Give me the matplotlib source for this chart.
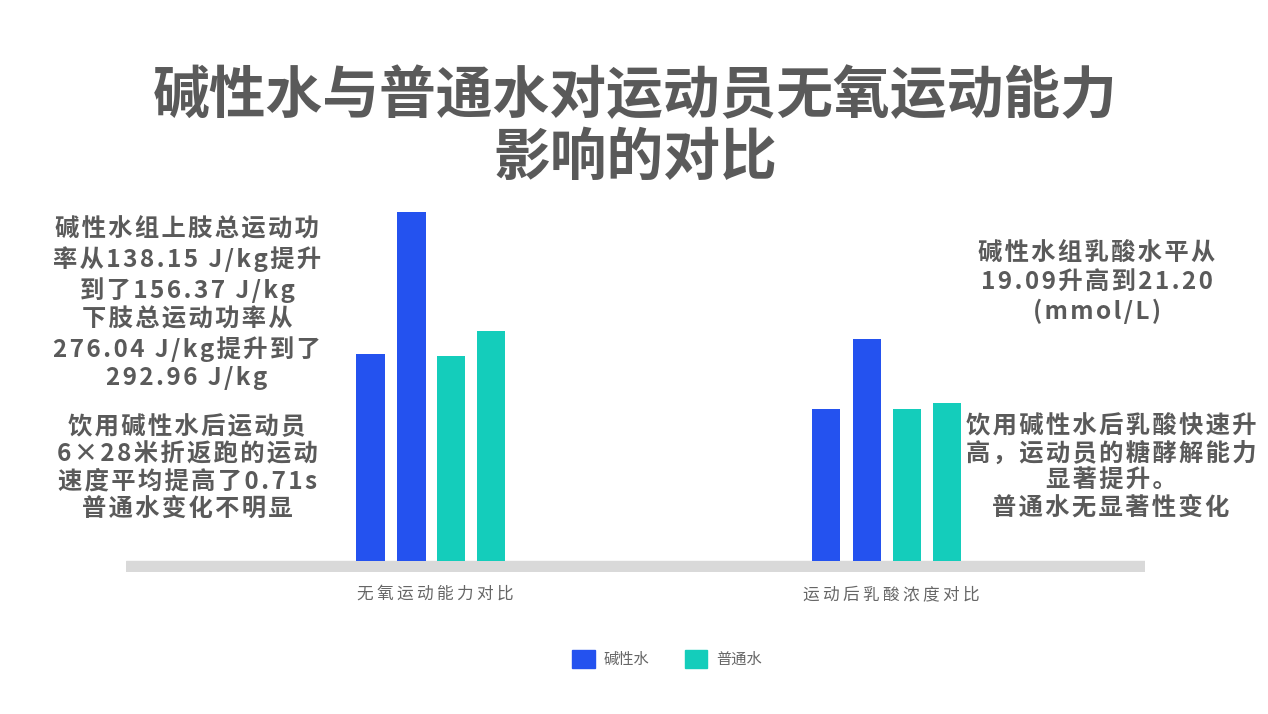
import matplotlib
matplotlib.use("Agg")
import matplotlib.pyplot as plt
from matplotlib.patches import Patch
import numpy as np

plt.rcParams['font.family'] = ['Noto Sans CJK SC', 'DejaVu Sans']

# данные
categories = ['无氧运动能力对比', '运动后乳酸浓度对比']
series_names = ['碱性水', '普通水']
alkaline_before = [207, 152]
alkaline_after = [349, 222]
plain_before = [205, 152]
plain_after = [230, 158]

blue = '#2452EF'
teal = '#14CDBB'
txt = '#5a5a5a'


def spaced(s, sp='\u200a'):
    # разрядка текста (letter-spacing)
    return '\n'.join(sp.join(line) for line in s.split('\n'))


fig = plt.figure(figsize=(12.68, 7.14), dpi=100)
W, H = 1268, 714
# оси: от 126 до 1145 px по x, от 200 до 572 px по y
ax = fig.add_axes([126 / W, 1 - 572 / H, (1145 - 126) / W, (572 - 200) / H])

x = np.arange(len(categories))
w = 0.062
offs = [-0.133, -0.043, 0.044, 0.131]
vals = [alkaline_before, alkaline_after, plain_before, plain_after]
cols = [blue, blue, teal, teal]
for o, v, c in zip(offs, vals, cols):
    ax.bar(x + o, v, width=w, color=c, zorder=3)

ax.set_xlim(-0.669, 1.566)
ax.set_ylim(-11, 361)
ax.axhspan(-11, 0, color='#D9D9D9', zorder=1)
for s in ax.spines.values():
    s.set_visible(False)
ax.set_yticks([])
ax.set_xticks(x + 0.01)
ax.set_xticklabels([spaced(c, '\u2009') for c in categories], fontsize=12, color='#666666')
ax.tick_params(axis='x', length=0, pad=10)

# заголовок
fig.text(635 / W, 1 - 127 / H, '碱性水与普通水对运动员无氧运动能力\n影响的对比',
         ha='center', va='center', fontsize=40.9, fontweight='bold', color=txt,
         linespacing=1.1)

# аннотации
fig.text(187 / W, 1 - 304 / H,
         spaced('碱性水组上肢总运动功\n率从138.15 J/kg提升\n到了156.37 J/kg\n下肢总运动功率从\n276.04 J/kg提升到了\n292.96 J/kg'),
         ha='center', va='center', fontsize=17.5, fontweight='bold', color=txt,
         linespacing=1.23)
fig.text(187 / W, 1 - 468 / H,
         spaced('饮用碱性水后运动员\n6×28米折返跑的运动\n速度平均提高了0.71s\n普通水变化不明显'),
         ha='center', va='center', fontsize=17.5, fontweight='bold', color=txt,
         linespacing=1.18)
fig.text(1097 / W, 1 - 283 / H,
         spaced('碱性水组乳酸水平从\n19.09升高到21.20\n(mmol/L)'),
         ha='center', va='center', fontsize=17.5, fontweight='bold', color=txt,
         linespacing=1.21)
fig.text(1111 / W, 1 - 467 / H,
         spaced('饮用碱性水后乳酸快速升\n高，运动员的糖酵解能力\n显著提升。\n普通水无显著性变化'),
         ha='center', va='center', fontsize=17.5, fontweight='bold', color=txt,
         linespacing=1.15)

handles = [Patch(color=blue), Patch(color=teal)]
fig.legend(handles, series_names, loc='center', bbox_to_anchor=(667 / W, 1 - 659 / H),
           ncol=2, frameon=False, fontsize=11, labelcolor='#666666',
           handlelength=1.5, handleheight=1.5, handletextpad=0.6, columnspacing=2.3)

fig.savefig('out.png', dpi=100, facecolor='white')
